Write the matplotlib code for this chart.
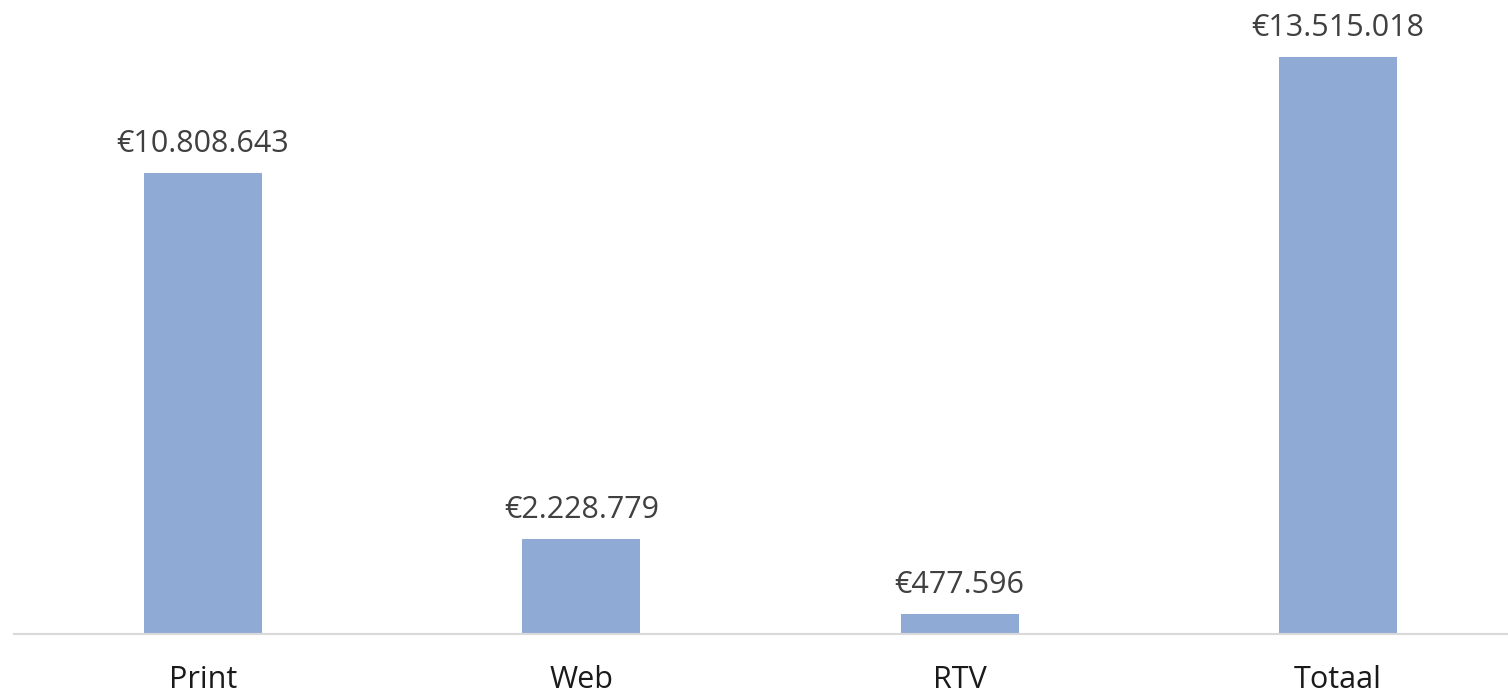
import matplotlib.pyplot as plt

categories = ["Print", "Web", "RTV", "Totaal"]
values = [10808643, 2228779, 477596, 13515018]
labels = ["€10.808.643", "€2.228.779", "€477.596", "€13.515.018"]

plt.rcParams['font.family'] = ['Open Sans', 'DejaVu Sans']

fig = plt.figure(figsize=(15.08, 6.93), dpi=100)
ax = fig.add_axes([14 / 1508, 59 / 693, 1 - 14 / 1508, 634 / 693])

x = range(len(categories))
bars = ax.bar(x, values, width=0.312, color="#8faad4")

for b, lab in zip(bars, labels):
    ax.annotate(lab, (b.get_x() + b.get_width() / 2, b.get_height()),
                xytext=(0, 10), textcoords="offset points",
                ha="center", va="bottom", fontsize=22, color="#404040")

ax.set_xlim(-0.5, 3.45)
ax.set_ylim(0, 14.85e6)
ax.set_xticks(list(x))
ax.set_xticklabels(categories, fontsize=22, color="#1a1a1a")
ax.tick_params(axis="x", length=0, pad=22)
ax.set_yticks([])
for s in ["top", "right", "left"]:
    ax.spines[s].set_visible(False)
ax.spines["bottom"].set_color("#d9d9d9")
ax.spines["bottom"].set_linewidth(1.5)

fig.savefig("out.png", dpi=100)
